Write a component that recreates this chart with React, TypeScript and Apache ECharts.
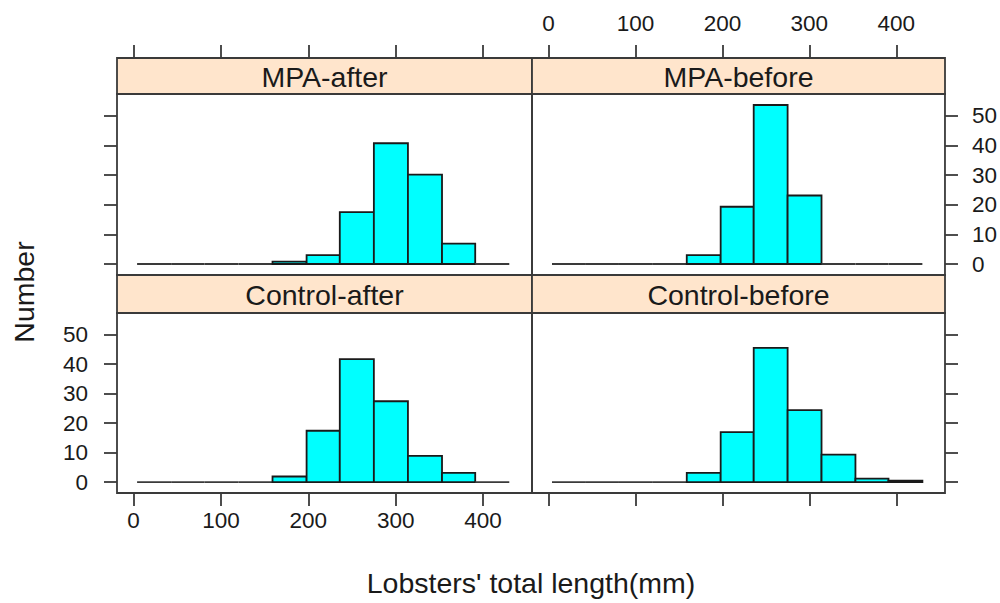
import React, { useEffect, useRef } from "react";
import * as echarts from "echarts";

// Histogram bin breaks (mm)
const binEdges = [4, 43, 81, 120, 159, 198, 236, 275, 314, 353, 391, 430];

// Panel names (lattice strips)
const panelNames = ["MPA-after", "MPA-before", "Control-after", "Control-before"];

// Bar heights per bin (percent of total)
const mpaAfter = [0, 0, 0, 0, 0.8, 3.0, 17.5, 40.7, 30.1, 6.9, 0];
const mpaBefore = [0, 0, 0, 0, 3.0, 19.3, 53.6, 23.1, 0, 0, 0];
const controlAfter = [0, 0, 0, 0, 1.9, 17.4, 41.7, 27.4, 8.9, 3.1, 0];
const controlBefore = [0, 0, 0, 0, 3.1, 16.9, 45.5, 24.4, 9.3, 1.2, 0.45];

const xTicks = [0, 100, 200, 300, 400];
const yTicks = [0, 10, 20, 30, 40, 50];

const xTitle = "Lobsters' total length(mm)";
const yTitle = "Number";

const FONT = "'Liberation Sans', Arial, sans-serif";
const TXT = "#1a1a1a";
const LINE = "#3a3a3a";
const LW = 1.8;

export default function App() {
  const ref = useRef<HTMLDivElement>(null);

  useEffect(() => {
    if (!ref.current) return;
    const chart = echarts.init(ref.current, undefined, { renderer: "svg" });

    const panelValues = [mpaAfter, mpaBefore, controlAfter, controlBefore];
    const grids = [
      { left: 117, top: 94, width: 415, height: 181 },
      { left: 532, top: 94, width: 413, height: 181 },
      { left: 117, top: 313, width: 415, height: 180 },
      { left: 532, top: 313, width: 413, height: 180 },
    ];
    const strips = [
      { x: 117, y: 58, w: 415, h: 36 },
      { x: 532, y: 58, w: 413, h: 36 },
      { x: 117, y: 275, w: 415, h: 38 },
      { x: 532, y: 275, w: 413, h: 38 },
    ];

    const tickStyle = { lineStyle: { color: LINE, width: LW } };
    const labelBase = { color: TXT, fontFamily: FONT, fontSize: 22.5 };

    const xAxes = [0, 1, 2, 3].map((i) => {
      const top = i < 2;
      const showLabel = i === 1 || i === 2;
      return {
        type: "value",
        gridIndex: i,
        min: -19,
        max: 456,
        position: top ? "top" : "bottom",
        offset: top ? 36 : 0,
        axisLine: { show: false, onZero: false },
        splitLine: { show: false },
        axisTick: {
          show: true,
          inside: false,
          length: 13,
          customValues: xTicks,
          ...tickStyle,
        },
        axisLabel: {
          show: showLabel,
          customValues: xTicks,
          margin: top ? 23 : 16,
          ...labelBase,
        },
      };
    });

    const yAxes = [0, 1, 2, 3].map((i) => {
      const left = i % 2 === 0;
      const showLabel = i === 1 || i === 2;
      return {
        type: "value",
        gridIndex: i,
        min: -3.7,
        max: 57.3,
        position: left ? "left" : "right",
        axisLine: { show: false, onZero: false },
        splitLine: { show: false },
        axisTick: {
          show: true,
          inside: false,
          length: 13,
          customValues: yTicks,
          ...tickStyle,
        },
        axisLabel: {
          show: showLabel,
          customValues: yTicks,
          margin: left ? 29 : 27,
          ...labelBase,
        },
      };
    });

    const series = panelValues.map((vals, i) => ({
      type: "custom",
      xAxisIndex: i,
      yAxisIndex: i,
      encode: { x: [0, 1], y: 2 },
      data: vals.map((v, k) => [binEdges[k], binEdges[k + 1], v]),
      renderItem: (params: any, api: any) => {
        const x0 = api.value(0);
        const x1 = api.value(1);
        const v = api.value(2);
        const p0 = api.coord([x0, 0]);
        const p1 = api.coord([x1, v]);
        if (v === 0) {
          return {
            type: "line",
            shape: { x1: p0[0], y1: p0[1], x2: p1[0], y2: p0[1] },
            style: { stroke: LINE, lineWidth: LW },
          };
        }
        return {
          type: "rect",
          shape: {
            x: p0[0],
            y: p1[1],
            width: p1[0] - p0[0],
            height: p0[1] - p1[1],
          },
          style: { fill: "#00FFFF", stroke: "#1a1a1a", lineWidth: LW },
        };
      },
    }));

    const graphics: any[] = [];
    strips.forEach((s, i) => {
      graphics.push({
        type: "rect",
        shape: { x: s.x, y: s.y, width: s.w, height: s.h },
        style: { fill: "#FFE5CC", stroke: LINE, lineWidth: LW },
        z: 10,
      });
      graphics.push({
        type: "text",
        x: s.x + s.w / 2,
        y: s.y + s.h / 2 + 1,
        style: {
          text: panelNames[i],
          fill: TXT,
          font: `28.5px ${FONT}`,
          align: "center",
          verticalAlign: "middle",
        },
        z: 11,
      });
    });
    graphics.push({
      type: "text",
      x: 24,
      y: 292,
      rotation: Math.PI / 2,
      style: {
        text: yTitle,
        fill: TXT,
        font: `28.5px ${FONT}`,
        align: "center",
        verticalAlign: "middle",
      },
    });
    graphics.push({
      type: "text",
      x: 531,
      y: 583,
      style: {
        text: xTitle,
        fill: TXT,
        font: `28.5px ${FONT}`,
        align: "center",
        verticalAlign: "middle",
      },
    });

    chart.setOption({
      animation: false,
      backgroundColor: "#ffffff",
      grid: grids.map((g) => ({
        ...g,
        show: true,
        borderColor: LINE,
        borderWidth: LW,
        backgroundColor: "transparent",
      })),
      xAxis: xAxes,
      yAxis: yAxes,
      series,
      graphic: graphics,
    });

    return () => chart.dispose();
  }, []);

  return (
    <div
      ref={ref}
      style={{ position: "fixed", left: 0, top: 0, width: 1000, height: 603 }}
    />
  );
}
